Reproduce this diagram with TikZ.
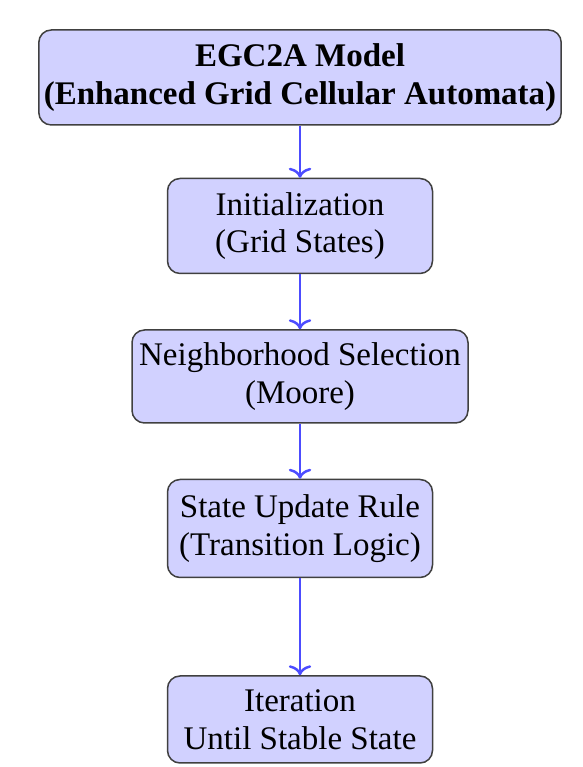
\documentclass[tikz,border=0pt]{standalone}
\usepackage{fontspec}
\setmainfont{Liberation Serif}
\usepackage{xcolor}
\usepackage{tikz}
\usetikzlibrary{arrows.meta,positioning}

\begin{document}
\begin{tikzpicture}[font=\fontsize{13.2pt}{15pt}\selectfont,>={To[length=4pt,width=9pt]},
  stage/.style={draw=black!75,line width=0.6pt,rounded corners=5pt,fill=blue!18,align=center,inner sep=2pt,minimum width=106pt,minimum height=38pt},
  flow/.style={->,draw=blue!70,line width=1pt}]
\useasboundingbox (0,0) rectangle (232.8pt,306.8pt);
\node[stage,minimum width=206.4pt,font=\fontsize{13.2pt}{15pt}\selectfont\bfseries] (egca) at (120pt,275.8pt) {EGC2A Model\\(Enhanced Grid Cellular Automata)};
\node[stage,below=20.8pt of egca] (init) {Initialization\\(Grid States)};
\node[stage,below=22pt of init,minimum width=134.4pt,minimum height=37.2pt] (nbhd) {Neighborhood Selection\\(Moore)};
\node[stage,below=22pt of nbhd,minimum height=39.2pt] (rule) {State Update Rule\\(Transition Logic)};
\node[stage,below=38.8pt of rule,minimum height=34.8pt] (iter) {Iteration\\Until Stable State};
\draw[flow] (egca)--(init);
\draw[flow] (init)--(nbhd);
\draw[flow] (nbhd)--(rule);
\draw[flow] (rule)--(iter);
\end{tikzpicture}
\end{document}
